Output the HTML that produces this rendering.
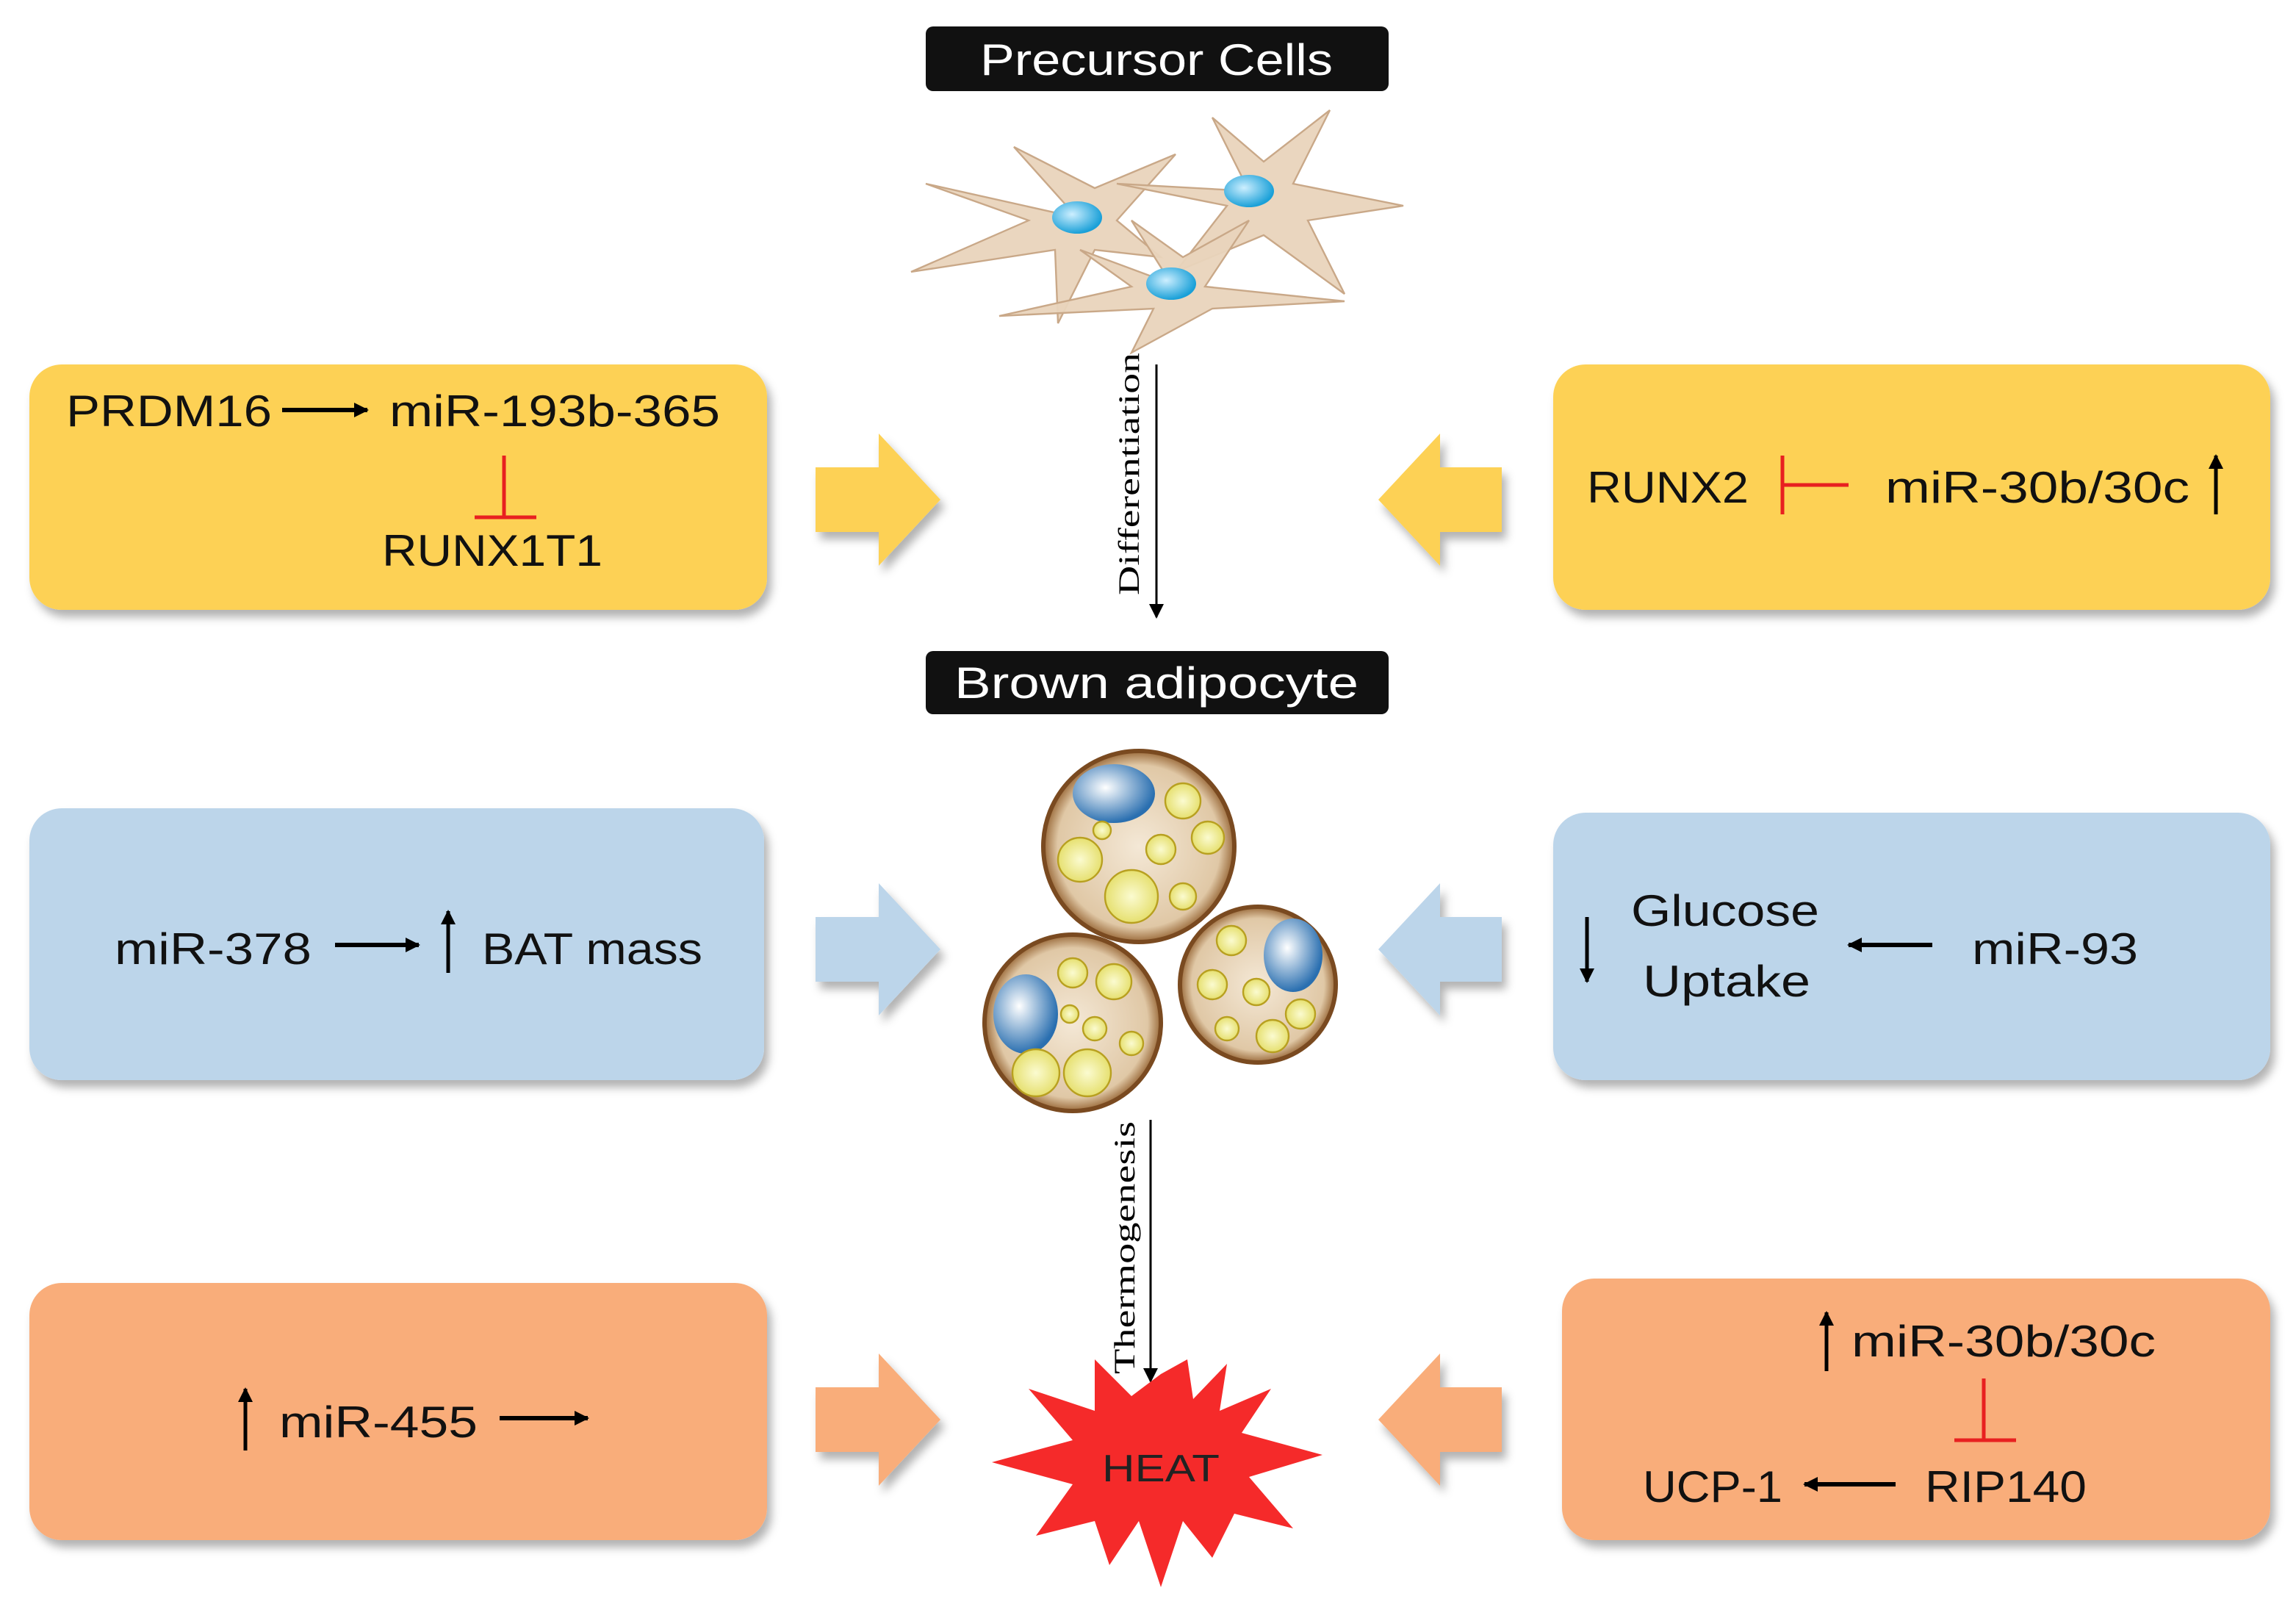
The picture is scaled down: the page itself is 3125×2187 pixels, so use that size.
<!DOCTYPE html>
<html><head><meta charset="utf-8"><style>html,body{margin:0;padding:0;background:#fff}svg{display:block}</style></head><body>
<svg width="3125" height="2187" viewBox="0 0 1562.5 1093.5" xmlns="http://www.w3.org/2000/svg" font-family="Liberation Sans, sans-serif">
<defs>
<filter id="sh" x="-5%" y="-5%" width="115%" height="120%"><feDropShadow dx="3" dy="5" stdDeviation="3" flood-color="#000" flood-opacity="0.3"/></filter>
<marker id="ah" markerWidth="10" markerHeight="10" refX="9" refY="5" orient="auto" markerUnits="userSpaceOnUse"><path d="M0,0 L10,5 L0,10 z" fill="#000"/></marker>
<radialGradient id="nuc" cx="0.4" cy="0.4" r="0.6"><stop offset="0" stop-color="#cdefff"/><stop offset="1" stop-color="#1aa0d8"/></radialGradient>
<radialGradient id="cell" cx="0.5" cy="0.5" r="0.5"><stop offset="0" stop-color="#f4e8d6"/><stop offset="0.85" stop-color="#e0c8a6"/><stop offset="1" stop-color="#9a6a3a"/></radialGradient>
<radialGradient id="blue" cx="0.4" cy="0.4" r="0.6"><stop offset="0" stop-color="#ffffff"/><stop offset="1" stop-color="#2a6fb0"/></radialGradient>
<radialGradient id="fat" cx="0.5" cy="0.5" r="0.5"><stop offset="0" stop-color="#fbfbd0"/><stop offset="1" stop-color="#e6e070"/></radialGradient>
</defs>

<rect x="630" y="18" width="315" height="44" rx="5" fill="#111"/>
<text x="787" y="51" font-size="30" fill="#fff" text-anchor="middle" textLength="240" lengthAdjust="spacingAndGlyphs">Precursor Cells</text>
<rect x="630" y="443" width="315" height="43" rx="5" fill="#111"/>
<text x="787" y="475" font-size="30" fill="#fff" text-anchor="middle" textLength="275" lengthAdjust="spacingAndGlyphs">Brown adipocyte</text>

<!-- precursor cells: three star-shaped cells -->
<g fill="#e9d4bc" stroke="#c9a888" stroke-width="1.2" fill-opacity="0.95">
<path d="M733,148 L690,100 L745,128 L800,105 L760,150 L790,175 L745,170 L720,220 L718,170 L620,185 L700,150 L630,125 Z"/>
<path d="M850,130 L825,80 L860,110 L905,75 L880,125 L955,140 L890,150 L915,200 L860,160 L800,185 L835,140 L760,125 Z"/>
<path d="M797,193 L770,150 L805,175 L850,150 L820,195 L915,205 L825,210 L770,240 L785,210 L680,215 L770,195 L735,170 Z"/>
</g>
<ellipse cx="733" cy="148" rx="17" ry="11" fill="url(#nuc)"/>
<ellipse cx="850" cy="130" rx="17" ry="11" fill="url(#nuc)"/>
<ellipse cx="797" cy="193" rx="17" ry="11" fill="url(#nuc)"/>

<line x1="787" y1="248" x2="787" y2="420" stroke="#000" stroke-width="1.5" marker-end="url(#ah)"/>
<text transform="translate(775,405) rotate(-90)" font-family="Liberation Serif, serif" font-size="20" fill="#000" textLength="165" lengthAdjust="spacingAndGlyphs">Differentiation</text>

<rect x="20" y="248" width="502" height="167" rx="22" fill="#fdd155" filter="url(#sh)"/>
<rect x="1057" y="248" width="488" height="167" rx="22" fill="#fdd155" filter="url(#sh)"/>
<g font-size="30" fill="#111">
<text x="45" y="290" textLength="140" lengthAdjust="spacingAndGlyphs">PRDM16</text>
<text x="265" y="290" textLength="225" lengthAdjust="spacingAndGlyphs">miR-193b-365</text>
<text x="260" y="385" textLength="150" lengthAdjust="spacingAndGlyphs">RUNX1T1</text>
<text x="1080" y="342" textLength="110" lengthAdjust="spacingAndGlyphs">RUNX2</text>
<text x="1283" y="342" textLength="207" lengthAdjust="spacingAndGlyphs">miR-30b/30c</text>
</g>
<line x1="192" y1="279" x2="250" y2="279" stroke="#000" stroke-width="3" marker-end="url(#ah)"/>
<g stroke="#e82020" stroke-width="2.5"><line x1="343" y1="310" x2="343" y2="351"/><line x1="323" y1="352" x2="365" y2="352"/>
<line x1="1213" y1="310" x2="1213" y2="350"/><line x1="1213" y1="330" x2="1258" y2="330"/></g>
<line x1="1508" y1="350" x2="1508" y2="310" stroke="#000" stroke-width="2.5" marker-end="url(#ah)"/>

<rect x="20" y="550" width="500" height="185" rx="22" fill="#bcd5ea" filter="url(#sh)"/>
<rect x="1057" y="553" width="488" height="182" rx="22" fill="#bcd5ea" filter="url(#sh)"/>
<g font-size="30" fill="#111">
<text x="78" y="656" textLength="134" lengthAdjust="spacingAndGlyphs">miR-378</text>
<text x="328" y="656" textLength="150" lengthAdjust="spacingAndGlyphs">BAT mass</text>
<text x="1110" y="630" textLength="128" lengthAdjust="spacingAndGlyphs">Glucose</text>
<text x="1118" y="678" textLength="114" lengthAdjust="spacingAndGlyphs">Uptake</text>
<text x="1342" y="656" textLength="113" lengthAdjust="spacingAndGlyphs">miR-93</text>
</g>
<line x1="228" y1="643" x2="285" y2="643" stroke="#000" stroke-width="3" marker-end="url(#ah)"/>
<line x1="305" y1="662" x2="305" y2="620" stroke="#000" stroke-width="2.5" marker-end="url(#ah)"/>
<line x1="1080" y1="624" x2="1080" y2="668" stroke="#000" stroke-width="2.5" marker-end="url(#ah)"/>
<line x1="1315" y1="643" x2="1258" y2="643" stroke="#000" stroke-width="3" marker-end="url(#ah)"/>

<g>
<circle cx="775" cy="576" r="65" fill="url(#cell)" stroke="#7a4a20" stroke-width="3"/>
<ellipse cx="758" cy="540" rx="28" ry="20" fill="url(#blue)"/>
<g fill="url(#fat)" stroke="#b8a020" stroke-width="1.2">
<circle cx="805" cy="545" r="12"/><circle cx="735" cy="585" r="15"/><circle cx="790" cy="578" r="10"/><circle cx="822" cy="570" r="11"/><circle cx="770" cy="610" r="18"/><circle cx="805" cy="610" r="9"/><circle cx="750" cy="565" r="6"/></g>
<circle cx="730" cy="696" r="60" fill="url(#cell)" stroke="#7a4a20" stroke-width="3"/>
<ellipse cx="698" cy="690" rx="22" ry="27" fill="url(#blue)"/>
<g fill="url(#fat)" stroke="#b8a020" stroke-width="1.2">
<circle cx="730" cy="662" r="10"/><circle cx="758" cy="668" r="12"/><circle cx="745" cy="700" r="8"/><circle cx="770" cy="710" r="8"/><circle cx="705" cy="730" r="16"/><circle cx="740" cy="730" r="16"/><circle cx="728" cy="690" r="6"/></g>
<circle cx="856" cy="670" r="53" fill="url(#cell)" stroke="#7a4a20" stroke-width="3"/>
<ellipse cx="880" cy="650" rx="20" ry="25" fill="url(#blue)"/>
<g fill="url(#fat)" stroke="#b8a020" stroke-width="1.2">
<circle cx="838" cy="640" r="10"/><circle cx="825" cy="670" r="10"/><circle cx="855" cy="675" r="9"/><circle cx="885" cy="690" r="10"/><circle cx="866" cy="705" r="11"/><circle cx="835" cy="700" r="8"/></g>
</g>

<line x1="783" y1="762" x2="783" y2="940" stroke="#000" stroke-width="1.5" marker-end="url(#ah)"/>
<text transform="translate(772,935) rotate(-90)" font-family="Liberation Serif, serif" font-size="20" fill="#000" textLength="172" lengthAdjust="spacingAndGlyphs">Thermogenesis</text>

<rect x="20" y="873" width="502" height="175" rx="22" fill="#f9ad7a" filter="url(#sh)"/>
<rect x="1063" y="870" width="482" height="178" rx="22" fill="#f9ad7a" filter="url(#sh)"/>
<g font-size="30" fill="#111">
<text x="190" y="978" textLength="135" lengthAdjust="spacingAndGlyphs">miR-455</text>
<text x="1260" y="923" textLength="207" lengthAdjust="spacingAndGlyphs">miR-30b/30c</text>
<text x="1118" y="1022" textLength="95" lengthAdjust="spacingAndGlyphs">UCP-1</text>
<text x="1310" y="1022" textLength="110" lengthAdjust="spacingAndGlyphs">RIP140</text>
</g>
<line x1="167" y1="987" x2="167" y2="945" stroke="#000" stroke-width="2.5" marker-end="url(#ah)"/>
<line x1="340" y1="965" x2="400" y2="965" stroke="#000" stroke-width="3" marker-end="url(#ah)"/>
<line x1="1243" y1="933" x2="1243" y2="893" stroke="#000" stroke-width="2.5" marker-end="url(#ah)"/>
<line x1="1290" y1="1010" x2="1228" y2="1010" stroke="#000" stroke-width="3" marker-end="url(#ah)"/>
<g stroke="#e82020" stroke-width="2.5"><line x1="1350" y1="938" x2="1350" y2="979"/><line x1="1330" y1="980" x2="1372" y2="980"/></g>

<g filter="url(#sh)">
<path d="M555,318 L598,318 L598,295 L640,340 L598,385 L598,362 L555,362 Z" fill="#fdd155"/>
<path d="M1022,318 L980,318 L980,295 L938,340 L980,385 L980,362 L1022,362 Z" fill="#fdd155"/>
<path d="M555,624 L598,624 L598,601 L640,646 L598,691 L598,668 L555,668 Z" fill="#bcd5ea"/>
<path d="M1022,624 L980,624 L980,601 L938,646 L980,691 L980,668 L1022,668 Z" fill="#bcd5ea"/>
<path d="M555,944 L598,944 L598,921 L640,966 L598,1011 L598,988 L555,988 Z" fill="#f9ad7a"/>
<path d="M1022,944 L980,944 L980,921 L938,966 L980,1011 L980,988 L1022,988 Z" fill="#f9ad7a"/>
</g>

<polygon fill="#f52a2a" points="790,935 808,925 812,952 835,928 830,960 865,945 845,975 900,990 850,1005 880,1040 840,1030 825,1060 805,1035 790,1080 775,1035 755,1065 745,1035 705,1045 730,1010 675,995 730,980 700,945 745,960 745,925 770,950"/>
<text x="790" y="1008" font-size="26" fill="#222" text-anchor="middle" textLength="80" lengthAdjust="spacingAndGlyphs">HEAT</text>
</svg>
</body></html>
